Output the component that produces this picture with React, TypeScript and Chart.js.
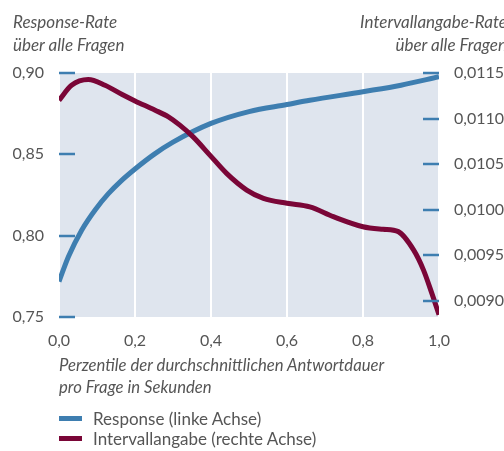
import React, { useEffect, useRef } from "react";
import { Chart, registerables } from "chart.js";
Chart.register(...registerables);

const responseX = [0, 0.025, 0.06, 0.095, 0.13, 0.165, 0.2, 0.25, 0.3, 0.4, 0.5, 0.6, 0.66, 0.8, 0.9, 1.0];
const responseY = [0.7718, 0.7872, 0.8035, 0.8158, 0.8258, 0.834, 0.841, 0.85, 0.8575, 0.869, 0.8763, 0.8806, 0.8832, 0.8885, 0.8925, 0.8977];

const intervalX = [0, 0.033, 0.077, 0.121, 0.165, 0.2, 0.253, 0.288, 0.318, 0.353, 0.397, 0.441, 0.494, 0.538, 0.6, 0.66, 0.722, 0.8, 0.853, 0.893, 0.933, 0.959, 0.981, 1.0];
const intervalY = [0.01120, 0.011365, 0.011428, 0.011365, 0.011266, 0.011193, 0.011091, 0.011018, 0.010927, 0.010798, 0.010598, 0.010397, 0.010214, 0.010123, 0.010068, 0.010028, 0.009921, 0.009811, 0.009783, 0.009757, 0.009556, 0.009337, 0.009081, 0.008843];

const leftTicks = [0.75, 0.8, 0.85, 0.9];
const rightTicks = [0.009, 0.0095, 0.01, 0.0105, 0.011, 0.0115];
const xTicks = [0, 0.2, 0.4, 0.6, 0.8, 1.0];

const leftTitle = ["Response-Rate", "über alle Fragen"];
const rightTitle = ["Intervallangabe-Rate", "über alle Fragen"];
const xTitle = ["Perzentile der durchschnittlichen Antwortdauer", "pro Frage in Sekunden"];
const seriesNames = ["Response (linke Achse)", "Intervallangabe (rechte Achse)"];

const BLUE = "#3e7eb0";
const RED = "#7a0637";
const TEXT = "#555555";
const FONT = "Lato, 'Open Sans', sans-serif";

const bgPlugin = {
  id: "bgPlugin",
  beforeDraw(chart: any) {
    const { ctx, chartArea } = chart;
    ctx.save();
    ctx.fillStyle = "#dfe5ee";
    ctx.fillRect(chartArea.left, chartArea.top, chartArea.right - chartArea.left, chartArea.bottom - chartArea.top);
    ctx.restore();
  },
  afterDatasetsDraw(chart: any) {
    const { ctx, chartArea, scales } = chart;
    ctx.save();
    ctx.strokeStyle = BLUE;
    ctx.lineWidth = 2.5;
    for (const v of leftTicks) {
      const y = Math.round(scales.yL.getPixelForValue(v));
      ctx.beginPath();
      ctx.moveTo(chartArea.left, y);
      ctx.lineTo(chartArea.left + 16, y);
      ctx.stroke();
    }
    for (const v of rightTicks) {
      const y = Math.round(scales.yR.getPixelForValue(v));
      ctx.beginPath();
      ctx.moveTo(chartArea.right - 16, y);
      ctx.lineTo(chartArea.right, y);
      ctx.stroke();
    }
    ctx.restore();
  },
};

const fmt = (v: number, d: number) => v.toFixed(d).replace(".", ",");

export default function App() {
  const ref = useRef<HTMLCanvasElement>(null);
  useEffect(() => {
    if (!ref.current) return;
    const chart = new Chart(ref.current, {
      type: "line",
      data: {
        datasets: [
          {
            label: seriesNames[0],
            data: responseX.map((x, i) => ({ x, y: responseY[i] })),
            borderColor: BLUE,
            borderWidth: 5,
            pointRadius: 0,
            cubicInterpolationMode: "monotone",
            yAxisID: "yL",
            order: 1,
          },
          {
            label: seriesNames[1],
            data: intervalX.map((x, i) => ({ x, y: intervalY[i] })),
            borderColor: RED,
            borderWidth: 5,
            pointRadius: 0,
            cubicInterpolationMode: "monotone",
            yAxisID: "yR",
            order: 0,
          },
        ],
      },
      options: {
        animation: false,
        responsive: false,
        maintainAspectRatio: false,
        layout: { padding: { top: 73, left: 0, right: 0, bottom: 0 } },
        plugins: { legend: { display: false }, tooltip: { enabled: false } },
        scales: {
          x: {
            type: "linear",
            min: 0,
            max: 1,
            afterBuildTicks: (s: any) => { s.ticks = xTicks.map((v) => ({ value: v })); },
            afterFit: (s: any) => { s.height = 134; },
            ticks: { color: TEXT, font: { family: FONT, size: 16 }, padding: 14, callback: (v: any) => fmt(Number(v), 1), maxRotation: 0 },
            grid: { color: "#ffffff", lineWidth: 2, drawTicks: false },
            border: { display: false },
          },
          yL: {
            type: "linear",
            position: "left",
            min: 0.75,
            max: 0.9,
            afterBuildTicks: (s: any) => { s.ticks = leftTicks.map((v) => ({ value: v })); },
            afterFit: (s: any) => { s.width = 59; },
            ticks: { color: TEXT, font: { family: FONT, size: 16 }, padding: 15, callback: (v: any) => fmt(Number(v), 2) },
            grid: { display: false, drawTicks: false },
            border: { display: false },
          },
          yR: {
            type: "linear",
            position: "right",
            min: 0.008819,
            max: 0.0115,
            afterBuildTicks: (s: any) => { s.ticks = rightTicks.map((v) => ({ value: v })); },
            afterFit: (s: any) => { s.width = 65; },
            ticks: { color: TEXT, font: { family: FONT, size: 16 }, padding: 15, callback: (v: any) => fmt(Number(v), 4) },
            grid: { display: false, drawTicks: false },
            border: { display: false },
          },
        },
      },
      plugins: [bgPlugin],
    } as any);
    return () => chart.destroy();
  }, []);

  const italic: React.CSSProperties = { position: "absolute", fontFamily: FONT, fontStyle: "italic", fontSize: 17, color: TEXT, lineHeight: "23px", whiteSpace: "nowrap" };
  const legendRow: React.CSSProperties = { display: "flex", alignItems: "center", height: 20 };
  return (
    <div style={{ position: "absolute", left: 0, top: 0, width: 504, height: 451, background: "#fff", overflow: "hidden" }}>
      <canvas ref={ref} width={504} height={451} style={{ position: "absolute", left: 0, top: 0 }} />
      <div style={{ ...italic, left: 13, top: 10 }}>
        {leftTitle.map((t) => <div key={t}>{t}</div>)}
      </div>
      <div style={{ ...italic, right: -3, top: 10, textAlign: "right" }}>
        {rightTitle.map((t) => <div key={t}>{t}</div>)}
      </div>
      <div style={{ ...italic, fontSize: 16.7, left: 59, top: 354, lineHeight: "22px" }}>
        {xTitle.map((t) => <div key={t}>{t}</div>)}
      </div>
      <div style={{ position: "absolute", left: 59, top: 408, fontFamily: FONT, fontSize: 17, color: TEXT }}>
        {seriesNames.map((n, i) => (
          <div key={n} style={legendRow}>
            <span style={{ display: "inline-block", width: 23, height: 5, background: i === 0 ? BLUE : RED, marginRight: 11 }} />
            <span>{n}</span>
          </div>
        ))}
      </div>
    </div>
  );
}
